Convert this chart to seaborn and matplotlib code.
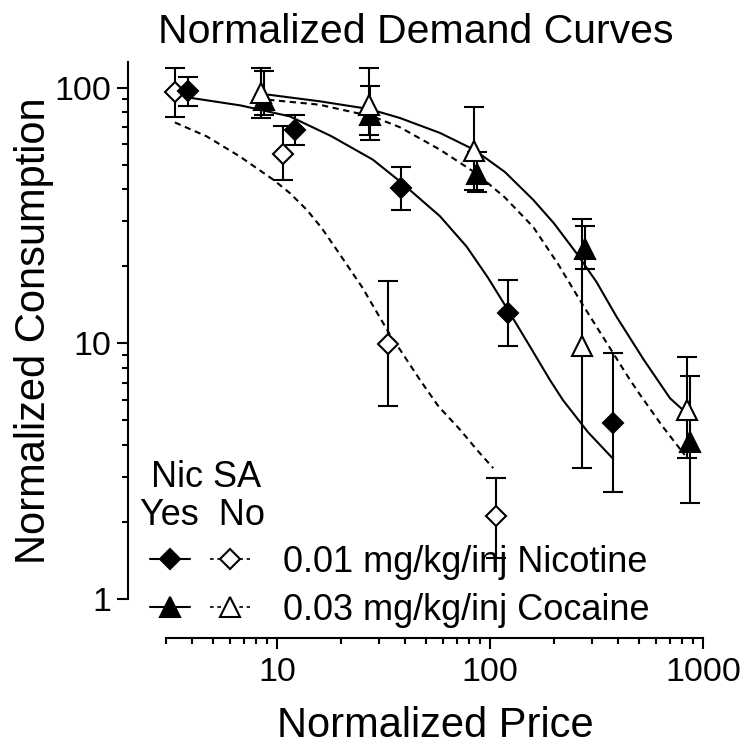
import numpy as np
import pandas as pd
import matplotlib
matplotlib.use("Agg")
import matplotlib.pyplot as plt
import seaborn as sns
from matplotlib.lines import Line2D
from matplotlib.legend_handler import HandlerTuple
from matplotlib.ticker import FixedLocator, FuncFormatter, NullFormatter

sns.set_theme(style="ticks")
plt.rcParams["font.family"] = ["Liberation Sans", "DejaVu Sans"]

# ---------------- data ----------------
# Nicotine, Nic SA = Yes (filled diamonds)
nic_yes_x = [3.83, 12.15, 38.2, 121.9, 379]
nic_yes_y = [96.7, 68.5, 40.5, 13.2, 4.9]
nic_yes_lo = [84.5, 59.8, 33.3, 9.78, 2.62]
nic_yes_hi = [110.1, 77.9, 48.9, 17.7, 9.16]

# Nicotine, Nic SA = No (open diamonds)
nic_no_x = [3.32, 10.7, 33.3, 106.7]
nic_no_y = [95.9, 55.2, 9.93, 2.11]
nic_no_lo = [76.5, 43.4, 5.69, 1.45]
nic_no_hi = [119.4, 70.6, 17.6, 2.98]

# Cocaine, Nic SA = Yes (filled triangles)
coc_yes_x = [8.7, 27.3, 86.6, 279, 869]
coc_yes_y = [89.7, 78.4, 46.1, 23.4, 4.13]
coc_yes_lo = [78.4, 62.5, 38.9, 19.5, 2.37]
coc_yes_hi = [115.9, 101.8, 55.9, 28.8, 7.46]

# Cocaine, Nic SA = No (open triangles)
coc_no_x = [8.4, 27.1, 84.2, 269, 843]
coc_no_y = [95.3, 85.8, 56.3, 9.78, 5.49]
coc_no_lo = [76.3, 65.4, 39.8, 3.25, 3.55]
coc_no_hi = [119.0, 119.6, 84.1, 30.6, 8.87]

# fitted demand curves
fit_nic_yes_x = [3.98, 6.76, 11.5, 18.0, 28.2, 37.8, 58.3, 77.7, 97.7, 121.5, 151, 191, 220, 288, 379]
fit_nic_yes_y = [91.1, 85.2, 77.2, 64.6, 52.3, 43.0, 31.4, 23.9, 18.1, 13.5, 10.0, 7.2, 6.0, 4.5, 3.53]
fit_nic_no_x = [3.32, 4.68, 6.7, 9.6, 11.5, 13.8, 16.2, 19.1, 25.1, 33.3, 46.9, 57.5, 72.3, 87.1, 103.6]
fit_nic_no_y = [73.1, 64.5, 53.8, 43.7, 38.7, 33.3, 28.3, 23.2, 16.6, 11.1, 7.2, 5.65, 4.6, 3.82, 3.25]
fit_coc_yes_x = [9.1, 15.8, 27.1, 37.8, 58.3, 84.2, 117.5, 159.7, 199.5, 255, 316, 393, 525, 700, 843]
fit_coc_yes_y = [93.9, 88.5, 82.5, 76.1, 66.5, 57.2, 46.8, 36.4, 29.5, 22.5, 17.4, 12.7, 8.67, 6.1, 5.3]
fit_coc_no_x = [9.1, 15.8, 28.3, 37.8, 58.3, 86.6, 117.5, 159.7, 209, 269, 355, 454, 506, 645, 820]
fit_coc_no_y = [89.7, 85.8, 77.0, 70.0, 57.2, 46.1, 37.2, 28.5, 20.4, 14.4, 9.97, 7.2, 6.3, 4.74, 3.66]

x_major = [10, 100, 1000]
y_major = [1, 10, 100]
legend_labels = ["0.01 mg/kg/inj Nicotine", "0.03 mg/kg/inj Cocaine"]

# ---------------- figure ----------------
W, H = 749, 750
fig = plt.figure(figsize=(W / 100, H / 100), dpi=100)
ax = fig.add_axes([128 / W, 151 / H, 575 / W, 537 / H])
ax.set_xscale("log")
ax.set_yscale("log")

LW = 1.5
DASH = (0, (3.0, 2.2))
MS_D = 10
MS_T = 14

# curves
sns.lineplot(x=fit_nic_yes_x, y=fit_nic_yes_y, ax=ax, color="black", lw=LW,
             sort=False, estimator=None, zorder=2)
sns.lineplot(x=fit_nic_no_x, y=fit_nic_no_y, ax=ax, color="black", lw=LW,
             linestyle=DASH, sort=False, estimator=None, zorder=2)
sns.lineplot(x=fit_coc_yes_x, y=fit_coc_yes_y, ax=ax, color="black", lw=LW,
             sort=False, estimator=None, zorder=2)
sns.lineplot(x=fit_coc_no_x, y=fit_coc_no_y, ax=ax, color="black", lw=LW,
             linestyle=DASH, sort=False, estimator=None, zorder=2)
for ln in ax.lines:
    ln.set_solid_joinstyle("round")
    ln.set_dash_joinstyle("round")


def draw_points(xs, ys, lo, hi, marker, ms, face, z):
    xs = np.array(xs); ys = np.array(ys); lo = np.array(lo); hi = np.array(hi)
    ax.errorbar(xs, ys, yerr=[ys - lo, hi - ys], fmt="none", ecolor="black",
                elinewidth=LW, capsize=7, capthick=LW, zorder=z)
    ax.plot(xs, ys, linestyle="none", marker=marker, ms=ms, mfc=face,
            mec="black", mew=LW, zorder=z + 0.5)


draw_points(nic_no_x, nic_no_y, nic_no_lo, nic_no_hi, "D", MS_D, "white", 3)
draw_points(nic_yes_x, nic_yes_y, nic_yes_lo, nic_yes_hi, "D", MS_D, "black", 4)
draw_points(coc_yes_x, coc_yes_y, coc_yes_lo, coc_yes_hi, "^", MS_T, "black", 5)
draw_points(coc_no_x, coc_no_y, coc_no_lo, coc_no_hi, "^", MS_T, "white", 6)

# axes
ax.set_xlim(2, 1000)
ax.set_ylim(1, 126)
ax.xaxis.set_major_locator(FixedLocator(x_major))
ax.xaxis.set_minor_locator(FixedLocator([3, 4, 5, 6, 7, 8, 9, 20, 30, 40, 50, 60, 70, 80, 90,
                                         200, 300, 400, 500, 600, 700, 800, 900]))
ax.yaxis.set_major_locator(FixedLocator(y_major))
ax.yaxis.set_minor_locator(FixedLocator([2, 3, 4, 5, 6, 7, 8, 9, 20, 30, 40, 50, 60, 70, 80, 90]))
fmt = FuncFormatter(lambda v, p: f"{v:g}")
ax.xaxis.set_major_formatter(fmt)
ax.yaxis.set_major_formatter(fmt)
ax.xaxis.set_minor_formatter(NullFormatter())
ax.yaxis.set_minor_formatter(NullFormatter())

for s in ["top", "right"]:
    ax.spines[s].set_visible(False)
for s in ["left", "bottom"]:
    ax.spines[s].set_color("black")
    ax.spines[s].set_linewidth(LW)
ax.spines["bottom"].set_position(("outward", 39 * 0.72))
ax.spines["bottom"].set_bounds(3, 1000)

ax.tick_params(which="major", length=8, width=LW, color="black", labelsize=24.5,
               labelcolor="black", direction="out")
ax.tick_params(which="minor", length=4.3, width=LW, color="black", direction="out")
ax.tick_params(axis="x", which="major", pad=6)
ax.tick_params(axis="y", which="major", pad=4)

ax.set_xlabel("Normalized Price", fontsize=30, color="black")
ax.xaxis.set_label_coords(0.534, -0.199)
ax.set_ylabel("Normalized Consumption", fontsize=30, color="black")
ax.yaxis.label.set_va("center")
ax.yaxis.set_label_coords(-0.163, 0.5)
ax.set_title("Normalized Demand Curves", fontsize=29.5, color="black", pad=14)

# legend
h_nic_yes = Line2D([], [], color="black", lw=LW, marker="D", ms=MS_D, mfc="black", mec="black", mew=LW)
h_nic_no = Line2D([], [], color="black", lw=1.2, ls=(0, (2.2, 2.2)), marker="D", ms=MS_D,
                  mfc="white", mec="black", mew=LW)
h_coc_yes = Line2D([], [], color="black", lw=LW, marker="^", ms=MS_T, mfc="black", mec="black", mew=LW)
h_coc_no = Line2D([], [], color="black", lw=1.2, ls=(0, (2.2, 2.2)), marker="^", ms=MS_T,
                  mfc="white", mec="black", mew=LW)
leg = ax.legend([(h_nic_yes, h_nic_no), (h_coc_yes, h_coc_no)], legend_labels,
                handler_map={tuple: HandlerTuple(ndivide=None, pad=0.56)},
                loc="upper left", bbox_to_anchor=(150 / W, 1 - 545 / H),
                bbox_transform=fig.transFigure, frameon=False, fontsize=26,
                handlelength=2.78, handletextpad=0.9, labelspacing=0.36,
                borderpad=0, borderaxespad=0, numpoints=1)
for t in leg.get_texts():
    t.set_color("black")

fig.text(206 / W, 1 - 487 / H, "Nic SA", ha="center", va="baseline", fontsize=26, color="black")
fig.text(140 / W, 1 - 525 / H, "Yes  No", ha="left", va="baseline", fontsize=26, color="black")

fig.savefig("out.png", dpi=100, facecolor="white")
